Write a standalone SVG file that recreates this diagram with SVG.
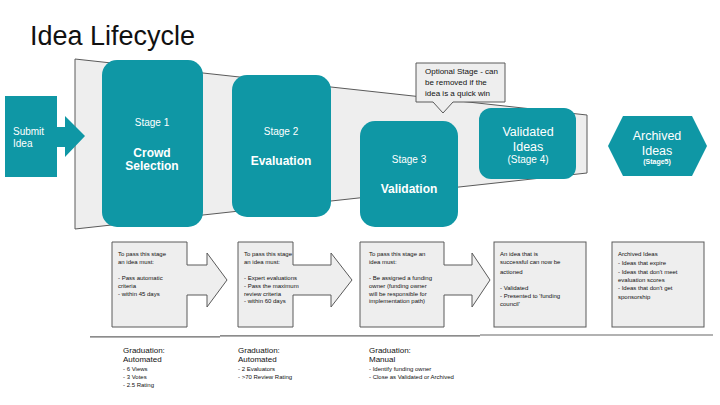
<svg xmlns="http://www.w3.org/2000/svg" width="720" height="405" viewBox="0 0 720 405">
<style>
text{font-family:"Liberation Sans",Arial,sans-serif}
.teal{fill:#0f97a5}
.gray{fill:#eeeeee;stroke:#5a5a5a;stroke-width:1}
.w{fill:#ffffff}
.stg{font-size:10px;fill:#ffffff;text-anchor:middle}
.big{font-size:12px;font-weight:bold;fill:#ffffff;text-anchor:middle}
.sm{font-size:6px;fill:#111111}
.grad{font-size:8px;fill:#111111}
.sep{stroke:#666666;stroke-width:1.2;fill:none}
</style>
<rect width="720" height="405" fill="#ffffff"/>
<text x="30" y="45" font-size="27" fill="#111111">Idea Lifecycle</text>

<g id="funnel">
<polygon class="gray" points="75,59 587,115 587,173 75,229"/>
</g>

<g id="submit-idea">
<path class="teal" d="M5,96 H57 V127 H65 V116 L85,136 L65,157 V147 H57 V177 H5 Z"/>
<text x="13" y="135" font-size="10" class="w">Submit</text>
<text x="13" y="147" font-size="10" class="w">Idea</text>
</g>

<g id="stage1">
<rect class="teal" x="102" y="60" width="101" height="167" rx="15"/>
<text class="stg" x="152" y="126">Stage 1</text>
<text class="big" x="152" y="157">Crowd</text>
<text class="big" x="152" y="170">Selection</text>
</g>

<g id="stage2">
<rect class="teal" x="232" y="75" width="99" height="142" rx="15"/>
<text class="stg" x="281" y="135">Stage 2</text>
<text class="big" x="281" y="165">Evaluation</text>
</g>

<g id="stage3">
<rect class="teal" x="360" y="121" width="98" height="106" rx="15"/>
<text class="stg" x="409" y="163">Stage 3</text>
<text class="big" x="409" y="193">Validation</text>
</g>

<g id="optional-note">
<path class="gray" d="M416,63 H505 V102 H453 L443,113 L433,102 H416 Z"/>
<text x="425" y="74" font-size="8" fill="#111111">Optional Stage - can</text>
<text x="425" y="85" font-size="8" fill="#111111">be removed if the</text>
<text x="425" y="96" font-size="8" fill="#111111">idea is a quick win</text>
</g>

<g id="stage4">
<rect class="teal" x="479" y="108" width="97" height="71" rx="12"/>
<text x="528" y="135.5" font-size="12.5" class="w" text-anchor="middle">Validated</text>
<text x="528" y="150.5" font-size="12.5" class="w" text-anchor="middle">Ideas</text>
<text x="528" y="163" font-size="10" class="w" text-anchor="middle">(Stage 4)</text>
</g>

<g id="stage5">
<polygon class="teal" points="608,146 623,116 692,116 707,146 692,176 623,176"/>
<text x="657" y="139.5" font-size="12.5" class="w" text-anchor="middle">Archived</text>
<text x="657" y="154.5" font-size="12.5" class="w" text-anchor="middle">Ideas</text>
<text x="657" y="163.5" font-size="7" font-weight="bold" class="w" text-anchor="middle">(Stage5)</text>
</g>

<g id="criteria1">
<path class="gray" d="M112,242 H187 V265 H207 V253 L227,280 L207,307 V295 H187 V327 H112 Z"/>
<text class="sm" x="118" y="256">To pass this stage</text>
<text class="sm" x="118" y="264">an idea must:</text>
<text class="sm" x="118" y="280">- Pass automatic</text>
<text class="sm" x="118" y="288">criteria</text>
<text class="sm" x="118" y="296">- within 45 days</text>
</g>

<g id="criteria2">
<path class="gray" d="M238,242 H293 V265 H331 V253 L352,280 L331,307 V295 H293 V327 H238 Z"/>
<text class="sm" x="244" y="256">To pass this stage</text>
<text class="sm" x="244" y="264">an idea must:</text>
<text class="sm" x="244" y="280">- Expert evaluations</text>
<text class="sm" x="244" y="288">- Pass the maximum</text>
<text class="sm" x="244" y="296">review criteria</text>
<text class="sm" x="244" y="303">- within 60 days</text>
</g>

<g id="criteria3">
<path class="gray" d="M360,242 H444 V265 H472 V253 L490,280 L472,307 V295 H444 V327 H360 Z"/>
<text class="sm" x="369" y="256">To pass this stage an</text>
<text class="sm" x="369" y="264">idea must:</text>
<text class="sm" x="369" y="280">- Be assigned a funding</text>
<text class="sm" x="369" y="288">owner (funding owner</text>
<text class="sm" x="369" y="296">will be responsible for</text>
<text class="sm" x="369" y="303">implementation path)</text>
</g>

<g id="criteria4">
<rect class="gray" x="494" y="242" width="92" height="85"/>
<text class="sm" x="500" y="256">An idea that is</text>
<text class="sm" x="500" y="264">successful can now be</text>
<text class="sm" x="500" y="274">actioned</text>
<text class="sm" x="500" y="290">- Validated</text>
<text class="sm" x="500" y="298">- Presented to 'funding</text>
<text class="sm" x="500" y="306">council'</text>
</g>

<g id="criteria5">
<rect class="gray" x="612" y="242" width="92" height="85"/>
<text class="sm" x="618" y="256">Archived Ideas</text>
<text class="sm" x="618" y="265">- Ideas that expire</text>
<text class="sm" x="618" y="274">- Ideas that don't meet</text>
<text class="sm" x="618" y="282">evaluation scores</text>
<text class="sm" x="618" y="290">- Ideas that don't get</text>
<text class="sm" x="618" y="299">sponsorship</text>
</g>

<g id="separators">
<line class="sep" x1="90" y1="336.8" x2="220" y2="336.8"/>
<line class="sep" x1="220" y1="335.8" x2="480" y2="335.8"/>
<line class="sep" x1="480" y1="335" x2="713" y2="335"/>
</g>

<g id="graduation1">
<text class="grad" x="123" y="353">Graduation:</text>
<text class="grad" x="123" y="362">Automated</text>
<text class="sm" x="123" y="371">- 6 Views</text>
<text class="sm" x="123" y="379">- 3 Votes</text>
<text class="sm" x="123" y="387">- 2.5 Rating</text>
</g>

<g id="graduation2">
<text class="grad" x="238" y="353">Graduation:</text>
<text class="grad" x="238" y="362">Automated</text>
<text class="sm" x="238" y="371">- 2 Evaluators</text>
<text class="sm" x="238" y="379">- &gt;70 Review Rating</text>
</g>

<g id="graduation3">
<text class="grad" x="369" y="353">Graduation:</text>
<text class="grad" x="369" y="362">Manual</text>
<text class="sm" x="369" y="371">- Identify funding owner</text>
<text class="sm" x="369" y="379">- Close as Validated or Archived</text>
</g>
</svg>
